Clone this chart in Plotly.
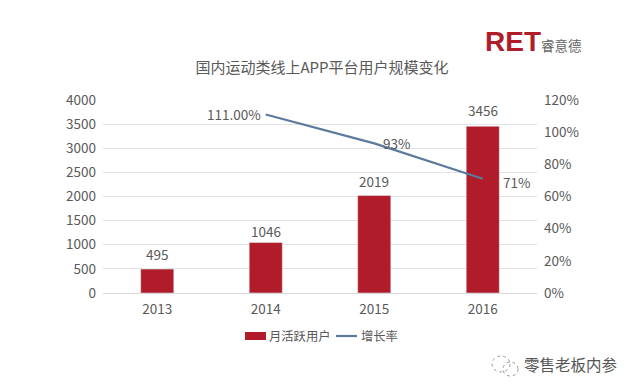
import plotly.graph_objects as go

years = [2013, 2014, 2015, 2016]
users = [495, 1046, 2019, 3456]
growth_years = [2014, 2015, 2016]
growth = [111, 93, 71]
growth_labels = ["111.00%", "93%", "71%"]
left_ticks = [0, 500, 1000, 1500, 2000, 2500, 3000, 3500, 4000]
right_ticks = [0, 20, 40, 60, 80, 100, 120]
right_labels = ["0%", "20%", "40%", "60%", "80%", "100%", "120%"]

FONT = "Noto Sans CJK SC, Liberation Sans, sans-serif"
GREY = "#595959"
RED = "#B01C2A"
BLUE = "#5B7A9D"
L, R, T, B = 103, 103, 100, 99
W, H = 640, 392


def px(x):
    return (x - L) / (W - L - R)


def py(y):
    return (H - B - y) / (H - T - B)


def note(text, x, y, size, color=GREY, anchor="left", family=FONT):
    return dict(text=text, xref="paper", yref="paper", x=px(x), y=py(y), xanchor=anchor,
                yanchor="middle", showarrow=False, font=dict(size=size, color=color, family=family))


fig = go.Figure()
fig.add_bar(x=years, y=users, name="月活跃用户", marker_color=RED, width=0.305)
fig.add_scatter(x=growth_years, y=growth, name="增长率", yaxis="y2", mode="lines",
                line=dict(color=BLUE, width=2.2), cliponaxis=False)

bar_shifts = [15, 12, 15, 16]
annotations = [
    dict(text=str(v), x=c, y=v, xref="x", yref="y", yshift=s, yanchor="middle",
         showarrow=False, font=dict(size=13.5, color=GREY))
    for c, v, s in zip(years, users, bar_shifts)
]
shifts = [(-3, 0, "right"), (7, 0, "left"), (18, -3, "left")]
annotations += [
    dict(text=t, x=c, y=v, xref="x", yref="y2", xshift=s[0], yshift=s[1], xanchor=s[2],
         yanchor="middle", showarrow=False, font=dict(size=13.5, color=GREY))
    for c, v, t, s in zip(growth_years, growth, growth_labels, shifts)
]
annotations += [
    note("<b>RET</b>", 483, 41, 28, RED, family="Liberation Sans"),
    note("睿意德", 539, 45, 13.5, "#666666"),
    note("月活跃用户", 267, 336, 12.3),
    note("增长率", 359, 336, 12.3),
    note("零售老板内参", 522, 364, 15.5, "#555555"),
]

shapes = [
    dict(type="rect", xref="paper", yref="paper", x0=px(245), x1=px(266), y0=py(340), y1=py(332),
         fillcolor=RED, line_width=0),
    dict(type="line", xref="paper", yref="paper", x0=px(336), x1=px(357), y0=py(336), y1=py(336),
         line=dict(color=BLUE, width=2.2)),
    dict(type="circle", xref="paper", yref="paper", x0=px(492), x1=px(510), y0=py(372), y1=py(356),
         line=dict(color="#999999", width=1, dash="dot")),
    dict(type="circle", xref="paper", yref="paper", x0=px(503), x1=px(518), y0=py(376), y1=py(362),
         line=dict(color="#999999", width=1, dash="dot")),
]

fig.update_layout(
    width=W, height=H, autosize=False,
    margin=dict(l=L, r=R, t=T, b=B, autoexpand=False),
    paper_bgcolor="white", plot_bgcolor="white",
    font=dict(family=FONT, color=GREY, size=13.5),
    title=dict(text="国内运动类线上APP平台用户规模变化", x=322 / W, xanchor="center",
               y=1 - 68 / H, yanchor="middle", font=dict(size=15, color=GREY)),
    xaxis=dict(range=[2012.5, 2016.5], tickvals=years, tickformat="d", showgrid=False, showline=True,
               linecolor="#D9D9D9", zeroline=False, ticks="", tickfont=dict(size=13.5, color=GREY),
               ticklabelstandoff=4),
    yaxis=dict(range=[0, 4000], tickvals=left_ticks, showgrid=True, gridcolor="#E3E3E3",
               zeroline=False, ticks="", tickfont=dict(size=13.5, color=GREY), ticklabelstandoff=6),
    yaxis2=dict(range=[0, 120], tickvals=right_ticks, ticktext=right_labels, overlaying="y",
                side="right", showgrid=False, zeroline=False, ticks="",
                tickfont=dict(size=13.5, color=GREY), ticklabelstandoff=6),
    showlegend=False,
    annotations=annotations,
    shapes=shapes,
)
fig.write_html("out.html", post_script="document.body.style.margin='0';",
               config={"displayModeBar": False})
